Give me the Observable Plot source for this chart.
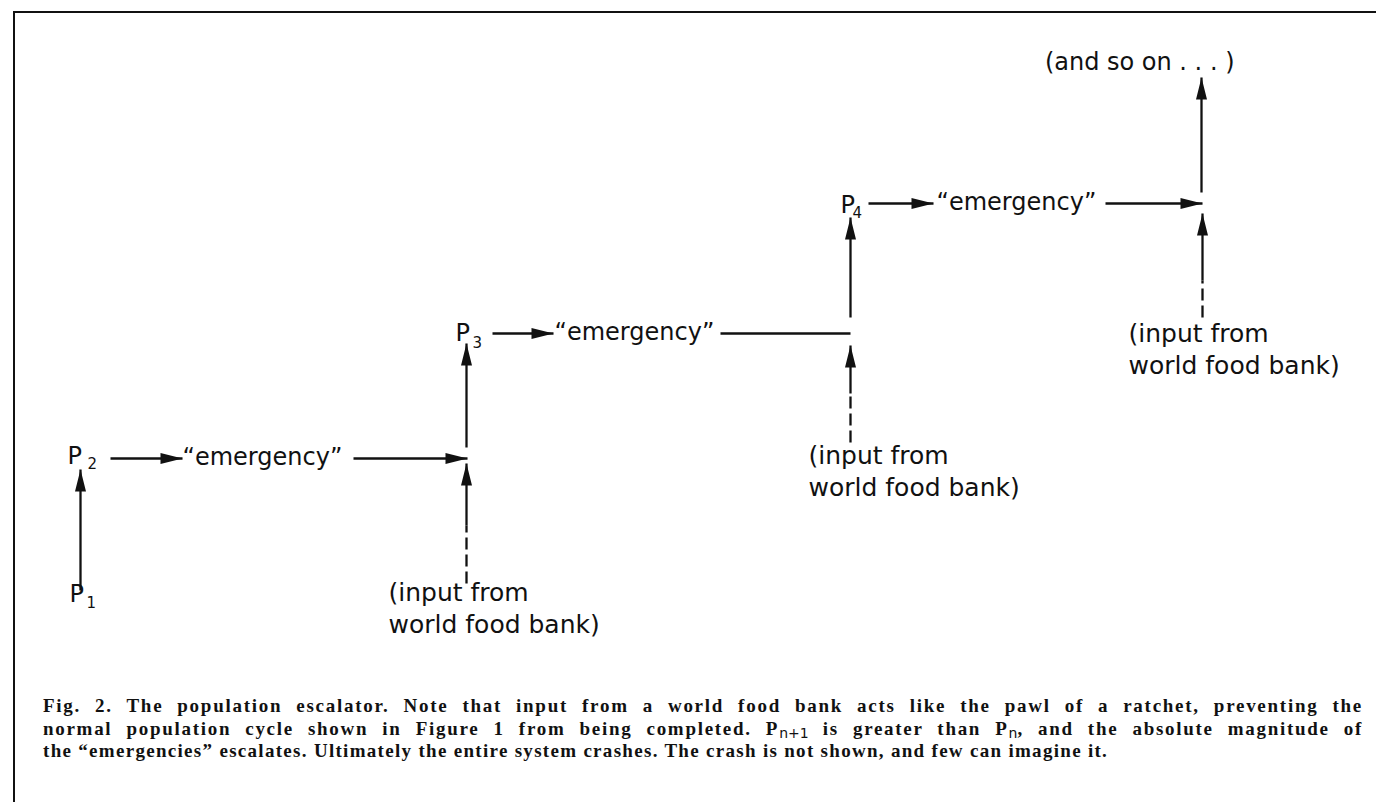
<!DOCTYPE html>
<html><head><meta charset="utf-8">
<script src="https://cdn.jsdelivr.net/npm/d3@7"></script>
<script src="https://cdn.jsdelivr.net/npm/@observablehq/plot@0.6"></script>
<style>
html,body{margin:0;padding:0;background:#fff;overflow:hidden}
#page{position:relative;width:1376px;height:802px;overflow:hidden;background:#fff}
#box{position:absolute;left:13px;top:11px;width:1400px;height:820px;border-top:2px solid #111;border-left:2px solid #111}
#chart{position:absolute;left:0;top:0}
#caption{position:absolute;left:43px;top:695px;width:1320px;font-family:"Liberation Serif",serif;font-weight:bold;font-size:19px;color:#111;letter-spacing:1.3px}
.cl{height:22.5px;line-height:22.5px;white-space:nowrap}
.j{text-align:justify;text-align-last:justify}
.m{display:inline-block;white-space:nowrap}
.sub{font-family:"DejaVu Sans",sans-serif;font-size:14px;position:relative;top:3px;font-weight:normal;letter-spacing:0;line-height:14px}
</style></head><body>
<div id="page"><div id="box"></div><div id="chart"></div><div id="caption"></div></div>
<script>
// Diagram coordinates: t = time (left to right), pop = population level (bottom to top)

// Population labels P1..P4
const pLabels = [
  {name: "P", sub: "1", t: 69, pop: 79, subT: 86, subPop: 73},
  {name: "P", sub: "2", t: 67, pop: 217, subT: 87, subPop: 212},
  {name: "P", sub: "3", t: 455, pop: 340, subT: 472, subPop: 333},
  {name: "P", sub: "4", t: 840, pop: 468, subT: 852, subPop: 463}
];

// Population rises (solid arrows pointing up)
const rises = [
  {t: 80, from: 90, to: 211},
  {t: 466, from: 233, to: 337},
  {t: 850, from: 363, to: 463},
  {t: 1201, from: 488, to: 603}
];

// Inputs from world food bank (dashed then solid, arrow pointing up)
const foodInputs = [
  {t: 466, dashFrom: 97, solidFrom: 155, to: 217},
  {t: 850, dashFrom: 238, solidFrom: 287, to: 335},
  {t: 1202, dashFrom: 363, solidFrom: 400, to: 467}
];

// Horizontal "emergency" flows
const flows = [
  {pop: 222, from: 110, to: 182, head: true},
  {pop: 222, from: 353, to: 467, head: true},
  {pop: 347, from: 492, to: 553, head: true},
  {pop: 347, from: 720, to: 850, head: false},
  {pop: 477, from: 868, to: 933, head: true},
  {pop: 477, from: 1105, to: 1202, head: true}
];

// "emergency" labels
const emergencyLabels = [
  {text: "“emergency”", t: 182, pop: 216},
  {text: "“emergency”", t: 554, pop: 341},
  {text: "“emergency”", t: 936, pop: 471}
];

// food bank labels
const foodLabels = [
  {text: "(input from\nworld food bank)", t: 388, pop: 48},
  {text: "(input from\nworld food bank)", t: 808, pop: 185},
  {text: "(input from\nworld food bank)", t: 1128, pop: 307}
];

const moreLabel = [{text: "(and so on . . . )", t: 1234, pop: 611}];

const captionLines = [
  "Fig. 2. The population escalator. Note that input from a world food bank acts like the pawl of a ratchet, preventing the",
  "normal population cycle shown in Figure 1 from being completed. P<span class=\"sub\">n+1</span> is greater than P<span class=\"sub\">n</span>, and the absolute magnitude of",
  "the “emergencies” escalates. Ultimately the entire system crashes. The crash is not shown, and few can imagine it."
];

// filled arrowhead symbol, tip at origin, pointing up
const arrowHead = {
  draw(ctx) {
    ctx.moveTo(0, 0);
    ctx.lineTo(5.5, 22);
    ctx.lineTo(-5.5, 22);
    ctx.closePath();
  }
};

const ink = "#111";
const lineStyle = {stroke: ink, strokeWidth: 2.3};
const font = {fontFamily: "DejaVu Sans", fill: ink};

const plot = Plot.plot({
  width: 1376,
  height: 680,
  margin: 0,
  x: {domain: [0, 1376], axis: null},
  y: {domain: [0, 680], axis: null},
  style: {background: "transparent"},
  marks: [
    Plot.link(rises, {x1: "t", x2: "t", y1: "from", y2: "to", ...lineStyle}),
    Plot.dot(rises, {x: "t", y: "to", symbol: arrowHead, fill: ink, stroke: "none"}),
    Plot.link(foodInputs, {x1: "t", x2: "t", y1: "solidFrom", y2: "to", ...lineStyle}),
    Plot.link(foodInputs, {x1: "t", x2: "t", y1: "dashFrom", y2: "solidFrom", ...lineStyle, strokeDasharray: "12,5"}),
    Plot.dot(foodInputs, {x: "t", y: "to", symbol: arrowHead, fill: ink, stroke: "none"}),
    Plot.link(flows, {x1: "from", x2: "to", y1: "pop", y2: "pop", ...lineStyle}),
    Plot.dot(flows.filter(d => d.head), {x: "to", y: "pop", symbol: arrowHead, rotate: 90, fill: ink, stroke: "none"}),
    Plot.text(pLabels, {x: "t", y: "pop", text: "name", fontSize: 24, textAnchor: "start", lineAnchor: "bottom", ...font}),
    Plot.text(pLabels, {x: "subT", y: "subPop", text: "sub", fontSize: 15, textAnchor: "start", lineAnchor: "bottom", ...font}),
    Plot.text(emergencyLabels, {x: "t", y: "pop", text: "text", fontSize: 24, textAnchor: "start", lineAnchor: "bottom", ...font}),
    Plot.text(foodLabels, {x: "t", y: "pop", text: "text", fontSize: 25, lineHeight: 1.28, textAnchor: "start", lineAnchor: "bottom", ...font}),
    Plot.text(moreLabel, {x: "t", y: "pop", text: "text", fontSize: 24, textAnchor: "end", lineAnchor: "bottom", ...font})
  ]
});
document.getElementById("chart").appendChild(plot);

const cap = document.getElementById("caption");
const capWidth = 1320;
captionLines.forEach((line, i) => {
  const div = document.createElement("div");
  div.className = "cl" + (i < 2 ? " j" : "");
  cap.appendChild(div);
  if (i < 2) {
    // measure natural width, spread a small part of the slack into letter spacing
    const probe = document.createElement("span");
    probe.className = "m";
    probe.innerHTML = line;
    div.appendChild(probe);
    const natural = probe.getBoundingClientRect().width;
    div.removeChild(probe);
    const chars = line.replace(/<[^>]+>/g, "").length;
    const extra = Math.max(0, (capWidth - natural) * 0.25 / chars);
    div.style.letterSpacing = (1.3 + extra) + "px";
  }
  div.innerHTML = line;
});
</script></body></html>
